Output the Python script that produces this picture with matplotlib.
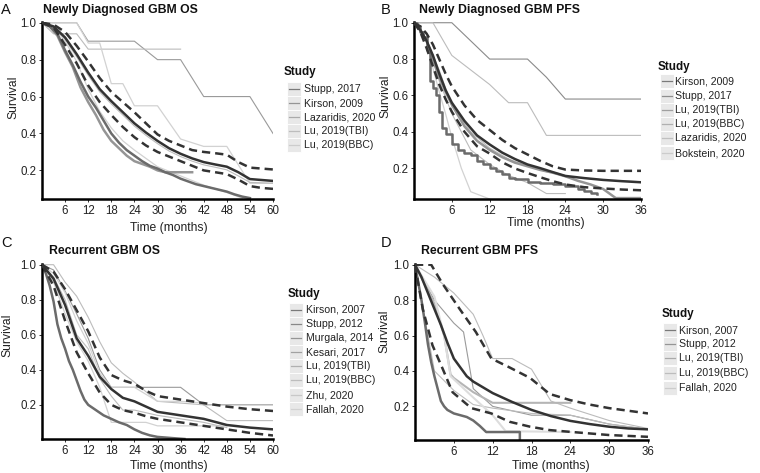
import matplotlib
matplotlib.use('Agg')
import matplotlib.pyplot as plt
from matplotlib.patches import Rectangle
from matplotlib.lines import Line2D

plt.rcParams['font.family'] = ['Liberation Sans', 'DejaVu Sans']

W, H = 760, 473

# ---------------- Panel A: Newly Diagnosed GBM OS ----------------
A_pool_t = [0, 3, 6, 9, 12, 15, 18, 21, 24, 27, 30, 33, 36, 39, 42, 45, 48, 51, 54, 57, 60]
A_pool = [1.0, 0.98, 0.92, 0.83, 0.73, 0.64, 0.575, 0.515, 0.455, 0.405, 0.36, 0.32, 0.29, 0.265, 0.245, 0.232, 0.22, 0.19, 0.153, 0.148, 0.143]
A_up = [1.0, 0.99, 0.95, 0.875, 0.79, 0.70, 0.625, 0.57, 0.515, 0.455, 0.395, 0.36, 0.335, 0.31, 0.30, 0.293, 0.285, 0.245, 0.215, 0.21, 0.205]
A_lo = [1.0, 0.975, 0.88, 0.78, 0.66, 0.57, 0.50, 0.435, 0.38, 0.335, 0.30, 0.275, 0.25, 0.225, 0.20, 0.19, 0.18, 0.15, 0.115, 0.105, 0.10]
A_s1_t = [0, 2, 4, 6, 8, 10, 12, 14, 16, 18, 20, 22, 24, 26, 28, 30, 32, 34, 36, 38, 40, 42, 44, 46, 48, 50, 52, 54]
A_s1 = [1.0, 0.98, 0.94, 0.85, 0.77, 0.68, 0.60, 0.54, 0.47, 0.40, 0.35, 0.31, 0.28, 0.25, 0.225, 0.21, 0.19, 0.175, 0.155, 0.14, 0.125, 0.115, 0.105, 0.095, 0.085, 0.07, 0.058, 0.05]
A_s2_t = [0, 2, 4, 6, 8, 10, 12, 14, 16, 18, 20, 22, 24, 26, 28, 30, 32, 34, 36, 39]
A_s2 = [1.0, 0.98, 0.93, 0.84, 0.76, 0.65, 0.57, 0.50, 0.42, 0.36, 0.32, 0.28, 0.25, 0.235, 0.22, 0.20, 0.19, 0.19, 0.19, 0.19]
A_s3_t = [0, 9, 12, 24, 30, 36, 42, 54, 60]
A_s3 = [1.0, 1.0, 0.90, 0.90, 0.80, 0.80, 0.60, 0.60, 0.40]
A_s4_t = [0, 3, 9, 12, 36]
A_s4 = [1.0, 0.94, 0.94, 0.857, 0.857]
A_s5_t = [0, 9, 12, 15, 18, 21, 24, 30, 36, 42, 48, 54, 60]
A_s5 = [1.0, 1.0, 0.89, 0.89, 0.67, 0.67, 0.55, 0.55, 0.37, 0.33, 0.33, 0.13, 0.13]
A_s6 = [1.0, 0.975, 0.91, 0.815, 0.715, 0.625, 0.56, 0.50, 0.44, 0.39, 0.345, 0.305, 0.275, 0.25, 0.23, 0.217, 0.203, 0.17, 0.135, 0.133, 0.13]
A_s7_t = [0, 3, 6, 9, 12, 15, 18, 21, 24, 30, 36, 42, 48, 52]
A_s7 = [1.0, 0.98, 0.90, 0.79, 0.64, 0.52, 0.43, 0.36, 0.31, 0.22, 0.17, 0.12, 0.08, 0.05]
A_studies = ['Stupp, 2017', 'Kirson, 2009', 'Lazaridis, 2020', 'Lu, 2019(TBI)', 'Lu, 2019(BBC)']

# ---------------- Panel B: Newly Diagnosed GBM PFS ----------------
B_pool_t = [0, 1, 2, 3, 4, 5, 6, 8, 10, 12, 14, 16, 18, 20, 22, 24, 27, 30, 33, 36]
B_pool = [1.0, 0.96, 0.90, 0.82, 0.72, 0.63, 0.56, 0.46, 0.38, 0.33, 0.285, 0.25, 0.22, 0.20, 0.178, 0.157, 0.145, 0.135, 0.128, 0.122]
B_up = [1.0, 0.98, 0.94, 0.88, 0.80, 0.72, 0.65, 0.545, 0.465, 0.41, 0.355, 0.31, 0.275, 0.24, 0.21, 0.192, 0.187, 0.185, 0.185, 0.185]
B_lo = [1.0, 0.95, 0.86, 0.76, 0.66, 0.58, 0.51, 0.40, 0.32, 0.28, 0.232, 0.198, 0.173, 0.15, 0.128, 0.11, 0.095, 0.088, 0.082, 0.078]
B_s1_t = [0, 6, 12, 18, 21, 24, 36]
B_s1 = [1.0, 1.0, 0.80, 0.80, 0.70, 0.58, 0.58]
B_s2_t = [0, 0.5, 1, 1.5, 2, 2.5, 3, 3.5, 4, 4.5, 5, 6, 7, 8, 9, 10, 11, 12, 13, 14, 15, 16, 18, 20, 22, 24, 26, 27, 28, 29]
B_s2 = [1.0, 0.98, 0.95, 0.92, 0.85, 0.68, 0.64, 0.60, 0.51, 0.42, 0.39, 0.33, 0.30, 0.285, 0.27, 0.24, 0.22, 0.20, 0.185, 0.165, 0.145, 0.14, 0.125, 0.12, 0.115, 0.10, 0.085, 0.075, 0.065, 0.055]
B_s3_t = [0, 1, 2, 3, 4, 5, 6, 8, 10, 12, 14, 16, 18, 20, 22, 24, 26, 28, 30, 31, 32, 36]
B_s3 = [1.0, 0.96, 0.90, 0.80, 0.70, 0.62, 0.55, 0.43, 0.35, 0.30, 0.26, 0.23, 0.21, 0.19, 0.175, 0.155, 0.13, 0.11, 0.085, 0.06, 0.035, 0.035]
B_s4_t = [0, 2, 4, 6, 9, 12, 15, 18, 21, 24, 27, 30, 33, 36]
B_s4 = [1.0, 0.90, 0.74, 0.54, 0.40, 0.31, 0.25, 0.21, 0.18, 0.155, 0.145, 0.135, 0.13, 0.125]
B_s5_t = [0, 3, 6, 12, 15, 18, 21, 36]
B_s5 = [1.0, 1.0, 0.82, 0.66, 0.56, 0.56, 0.38, 0.38]
B_s6_t = [0, 1, 2, 3, 4, 5, 6, 7.5, 9, 12]
B_s6 = [1.0, 0.97, 0.90, 0.75, 0.62, 0.50, 0.37, 0.20, 0.07, 0.03]
B_s7_t = [0, 2, 4, 6, 9, 12, 15, 18, 21, 24]
B_s7 = [1.0, 0.90, 0.68, 0.50, 0.30, 0.22, 0.16, 0.12, 0.06, 0.06]
B_studies = ['Kirson, 2009', 'Stupp, 2017', 'Lu, 2019(TBI)', 'Lu, 2019(BBC)', 'Lazaridis, 2020', 'Bokstein, 2020']

# ---------------- Panel C: Recurrent GBM OS ----------------
C_pool_t = [0, 3, 6, 9, 12, 15, 18, 21, 24, 27, 30, 36, 42, 48, 54, 60]
C_pool = [1.0, 0.92, 0.77, 0.58, 0.48, 0.36, 0.29, 0.24, 0.22, 0.19, 0.16, 0.14, 0.12, 0.085, 0.07, 0.06]
C_up = [1.0, 0.96, 0.86, 0.74, 0.62, 0.47, 0.37, 0.34, 0.32, 0.28, 0.25, 0.23, 0.21, 0.19, 0.175, 0.165]
C_lo = [1.0, 0.88, 0.68, 0.50, 0.38, 0.27, 0.20, 0.17, 0.155, 0.135, 0.12, 0.10, 0.08, 0.06, 0.04, 0.025]
C_s1_t = [0, 1, 2, 3, 4, 5, 6, 7, 8, 9, 10, 11, 12, 14, 16, 18, 20, 22, 24, 26, 28, 30, 34, 37]
C_s1 = [1.0, 0.95, 0.88, 0.79, 0.66, 0.58, 0.52, 0.45, 0.40, 0.34, 0.28, 0.23, 0.20, 0.17, 0.14, 0.12, 0.10, 0.085, 0.06, 0.04, 0.026, 0.017, 0.01, 0.005]
C_s2_t = [0, 3, 6, 9, 12, 15, 18, 36, 42, 60]
C_s2 = [1.0, 0.97, 0.85, 0.72, 0.58, 0.40, 0.30, 0.30, 0.20, 0.20]
C_s3_t = [0, 3, 6, 9, 12, 15, 18, 21, 24, 30, 42, 48, 60]
C_s3 = [1.0, 1.0, 0.90, 0.82, 0.70, 0.56, 0.44, 0.38, 0.33, 0.22, 0.20, 0.11, 0.11]
C_s4_t = [0, 3, 6, 9, 12, 15, 18, 27, 30, 48]
C_s4 = [1.0, 0.90, 0.72, 0.56, 0.45, 0.30, 0.10, 0.10, 0.08, 0.08]
C_s5_t = [0, 3, 6, 9, 12, 15, 18, 21, 24, 30, 36, 42, 48]
C_s5 = [1.0, 0.93, 0.80, 0.60, 0.52, 0.35, 0.25, 0.17, 0.17, 0.14, 0.12, 0.10, 0.07]
C_s6_t = [0, 3, 6, 9, 12, 15, 18, 24, 30, 36, 42]
C_s6 = [1.0, 0.95, 0.84, 0.68, 0.55, 0.38, 0.30, 0.30, 0.22, 0.22, 0.21]
C_studies = ['Kirson, 2007', 'Stupp, 2012', 'Murgala, 2014', 'Kesari, 2017', 'Lu, 2019(TBI)', 'Lu, 2019(BBC)', 'Zhu, 2020', 'Fallah, 2020']

# ---------------- Panel D: Recurrent GBM PFS ----------------
D_pool_t = [0, 1, 2, 3, 4, 5, 6, 7, 8, 9, 12, 15, 18, 21, 24, 27, 30, 33, 36]
D_pool = [1.0, 0.93, 0.84, 0.75, 0.66, 0.56, 0.47, 0.42, 0.37, 0.34, 0.275, 0.225, 0.18, 0.145, 0.118, 0.10, 0.085, 0.075, 0.07]
D_up_t = [0, 2.5, 4.3, 6.9, 9.4, 11.8, 14.6, 17.8, 20.8, 24, 27, 30, 36]
D_up = [1.0, 1.0, 0.89, 0.75, 0.62, 0.47, 0.42, 0.36, 0.27, 0.235, 0.21, 0.19, 0.16]
D_lo_t = [0, 1.2, 2.7, 4.3, 5.8, 8.7, 11.8, 14.6, 17.8, 20.8, 24, 27, 30, 36]
D_lo = [1.0, 0.75, 0.545, 0.41, 0.28, 0.19, 0.16, 0.113, 0.085, 0.066, 0.056, 0.047, 0.038, 0.028]
D_s1_t = [0, 0.5, 1, 1.5, 2, 2.5, 3, 3.5, 4, 4.5, 5, 6, 7, 8, 9, 10, 11, 16.2, 16.2]
D_s1 = [1.0, 0.90, 0.80, 0.68, 0.55, 0.45, 0.37, 0.30, 0.23, 0.20, 0.18, 0.16, 0.15, 0.14, 0.12, 0.09, 0.055, 0.055, 0.0]
D_s2_t = [0, 3, 6, 9, 10.5, 12, 15, 18, 21, 24, 30, 36]
D_s2 = [1.0, 0.93, 0.84, 0.72, 0.60, 0.47, 0.47, 0.41, 0.23, 0.19, 0.12, 0.075]
D_s3_t = [0, 3, 6, 7.5, 9, 12, 18, 24, 30, 36]
D_s3 = [1.0, 0.80, 0.67, 0.62, 0.30, 0.20, 0.15, 0.15, 0.10, 0.07]
D_s4_t = [0, 3, 4.5, 5.5, 6, 9, 12, 24]
D_s4 = [1.0, 0.78, 0.60, 0.38, 0.36, 0.28, 0.22, 0.22]
D_s5_t = [0, 3, 4.5, 5.5, 9, 12, 14, 24]
D_s5 = [1.0, 0.82, 0.60, 0.37, 0.25, 0.15, 0.06, 0.055]
D_s6_t = [0, 3, 6, 9, 12, 18, 24, 30, 36]
D_s6 = [1.0, 0.40, 0.29, 0.21, 0.19, 0.16, 0.15, 0.10, 0.07]
D_studies = ['Kirson, 2007', 'Stupp, 2012', 'Lu, 2019(TBI)', 'Lu, 2019(BBC)', 'Fallah, 2020']

fig = plt.figure(figsize=(W / 100, H / 100), dpi=100)


def make_ax(l, r, t, b):
    return fig.add_axes([l / W, 1 - b / H, (r - l) / W, (b - t) / H])


def fxy(px, py):
    return px / W, 1 - py / H


DARK = '#333333'
TH1 = '#6b6b6b'
TH2 = '#959595'
TN1 = '#9a9a9a'
TN2 = '#bcbcbc'
TN3 = '#d2d2d2'


def style(ax, xmax, ymin, xt):
    ax.set_xlim(0, xmax)
    ax.set_ylim(ymin, 1.004)
    ax.set_xticks(xt)
    ax.set_yticks([0.2, 0.4, 0.6, 0.8, 1.0])
    ax.set_yticklabels(['0.2', '0.4', '0.6', '0.8', '1.0'])
    for s in ['top', 'right']:
        ax.spines[s].set_visible(False)
    for s in ['left', 'bottom']:
        ax.spines[s].set_linewidth(1.8)
        ax.spines[s].set_color('black')
    ax.tick_params(length=2.5, width=0.7, colors='#333333', labelsize=8.3, pad=1.5)
    ax.tick_params(axis='both', labelcolor='#222222')


def pooled(ax, t, m, tu, u, tl, lo):
    ax.plot(tu, u, color=DARK, lw=1.8, dashes=(3.3, 2.0), zorder=5)
    ax.plot(tl, lo, color=DARK, lw=1.8, dashes=(3.3, 2.0), zorder=5)
    ax.plot(t, m, color=DARK, lw=1.8, zorder=6)


def legend(title_xy, key_x, centers, text_x, names, colors):
    fig.text(*fxy(*title_xy), 'Study', fontsize=8.4, fontweight='bold', ha='left', va='center', color='#111111')
    kw = 14
    for c, n, col in zip(centers, names, colors):
        x0, y0 = fxy(key_x, c + kw / 2)
        fig.add_artist(Rectangle((x0, y0), kw / W, kw / H, transform=fig.transFigure,
                                 facecolor='#e8e8e8', edgecolor='white', lw=0.6))
        xa, ya = fxy(key_x + 2, c)
        xb, _ = fxy(key_x + kw - 2, c)
        fig.add_artist(Line2D([xa, xb], [ya, ya], transform=fig.transFigure, color=col, lw=0.9))
        fig.text(*fxy(text_x, c), n, fontsize=7.6, ha='left', va='center', color='#222222')


# ---- A ----
axA = make_ax(42, 273, 22, 199)
style(axA, 60, 0.045, [6, 12, 18, 24, 30, 36, 42, 48, 54, 60])
axA.plot(A_s3_t, A_s3, color=TN1, lw=0.8)
axA.plot(A_s4_t, A_s4, color=TN2, lw=0.8)
axA.plot(A_s5_t, A_s5, color=TN3, lw=0.9)
axA.plot(A_pool_t, A_s6, color=TN2, lw=0.8)
axA.plot(A_s7_t, A_s7, color=TN3, lw=0.9)
axA.plot(A_s2_t, A_s2, color=TH2, lw=1.8)
axA.plot(A_s1_t, A_s1, color=TH1, lw=1.8)
pooled(axA, A_pool_t, A_pool, A_pool_t, A_up, A_pool_t, A_lo)
legend((284, 72), 287, [89, 103, 117, 131, 145], 304, A_studies,
       ['#7a7a7a', '#959595', '#aaaaaa', '#bdbdbd', '#cccccc'])

# ---- B ----
axB = make_ax(414, 641, 22, 199)
style(axB, 36, 0.03, [6, 12, 18, 24, 30, 36])
axB.plot(B_s1_t, B_s1, color='#8a8a8a', lw=0.8)
axB.plot(B_s5_t, B_s5, color=TN2, lw=0.8)
axB.plot(B_s6_t, B_s6, color=TN3, lw=0.9)
axB.plot(B_s7_t, B_s7, color=TN2, lw=0.8)
axB.plot(B_s4_t, B_s4, color=TN2, lw=0.8)
axB.plot(B_s3_t, B_s3, color=TH2, lw=1.8)
axB.plot(B_s2_t, B_s2, color=TH1, lw=1.8, drawstyle='steps-post')
pooled(axB, B_pool_t, B_pool, B_pool_t, B_up, B_pool_t, B_lo)
legend((658, 67), 660, [81, 96, 110, 124, 138, 153], 675, B_studies,
       ['#7a7a7a', '#8e8e8e', '#a0a0a0', '#b0b0b0', '#c0c0c0', '#cccccc'])

# ---- C ----
axC = make_ax(42, 273, 264, 439)
style(axC, 60, 0.005, [6, 12, 18, 24, 30, 36, 42, 48, 54, 60])
axC.plot(C_s2_t, C_s2, color=TN1, lw=0.8)
axC.plot(C_s3_t, C_s3, color=TN2, lw=0.8)
axC.plot(C_s4_t, C_s4, color=TN3, lw=0.9)
axC.plot(C_s5_t, C_s5, color=TN2, lw=0.8)
axC.plot(C_s6_t, C_s6, color=TN3, lw=0.9)
axC.plot(C_s1_t, C_s1, color=TH1, lw=1.8)
pooled(axC, C_pool_t, C_pool, C_pool_t, C_up, C_pool_t, C_lo)
legend((288, 294), 289, [310, 324, 338, 352, 366, 380, 395, 409], 306, C_studies,
       ['#7a7a7a', '#888888', '#959595', '#a2a2a2', '#b0b0b0', '#bdbdbd', '#c8c8c8', '#d2d2d2'])

# ---- D ----
axD = make_ax(415, 648, 264, 440)
style(axD, 36, 0.01, [6, 12, 18, 24, 30, 36])
axD.plot(D_s2_t, D_s2, color=TN2, lw=0.8)
axD.plot(D_s3_t, D_s3, color=TN1, lw=0.8)
axD.plot(D_s6_t, D_s6, color=TN2, lw=0.8)
axD.plot(D_s4_t, D_s4, color='#b5b5b5', lw=1.5)
axD.plot(D_s5_t, D_s5, color='#dddddd', lw=1.5)
axD.plot(D_s1_t, D_s1, color=TH1, lw=1.8)
pooled(axD, D_pool_t, D_pool, D_up_t, D_up, D_lo_t, D_lo)
legend((662, 314), 663, [330, 344, 358, 373, 388], 679, D_studies,
       ['#7a7a7a', '#959595', '#aaaaaa', '#bdbdbd', '#cccccc'])

# ---- texts ----
for letter, x, y in [('A', 1, 10), ('B', 381, 10), ('C', 1, 243), ('D', 381, 243)]:
    fig.text(*fxy(x, y), letter, fontsize=10.5, ha='left', va='center', color='#111111')

for title, tx, ty, xl, yl in [
    ('Newly Diagnosed GBM OS', 43, 10, (169, 228), (13.5, 97)),
    ('Newly Diagnosed GBM PFS', 419, 10, (546, 222.5), (385, 96)),
    ('Recurrent GBM OS', 49, 251, (169, 466), (7, 335)),
    ('Recurrent GBM PFS', 421, 251, (551, 466), (384, 331)),
]:
    fig.text(*fxy(tx, ty), title, fontsize=8.8, fontweight='bold', ha='left', va='center', color='#111111')
    fig.text(*fxy(*xl), 'Time (months)', fontsize=8.7, ha='center', va='center', color='#222222')
    fig.text(*fxy(*yl), 'Survival', fontsize=8.7, ha='center', va='center', rotation=90, color='#222222')

fig.savefig('out.png', dpi=100)
